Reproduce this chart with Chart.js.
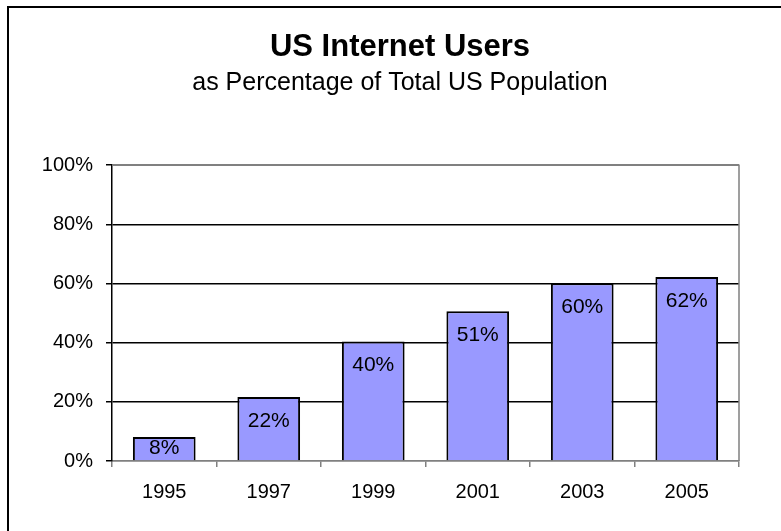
<!DOCTYPE html>
<html>
<head>
<meta charset="utf-8">
<script src="https://cdn.jsdelivr.net/npm/chart.js@4"></script>
<style>
  html, body { margin: 0; padding: 0; background: #fff; }
  #wrap { width: 781px; height: 531px; }
</style>
</head>
<body>
<div id="wrap"><canvas id="internetChart" width="781" height="531"></canvas></div>
<script>
// Dados do gráfico
const anos = ['1995', '1997', '1999', '2001', '2003', '2005'];
const usuariosPct = [8.1, 21.6, 40.4, 50.6, 60.1, 62.2];
const rotulosY = ['0%', '20%', '40%', '60%', '80%', '100%'];

const fonte = 'Liberation Sans, Arial, sans-serif';

// Moldura externa do gráfico (cortada à direita e embaixo, como na imagem)
const moldura = {
    id: 'moldura',
    beforeDraw(chart) {
        const c = chart.ctx;
        c.save();
        c.fillStyle = '#ffffff';
        c.fillRect(0, 0, chart.width, chart.height);
        c.strokeStyle = '#000000';
        c.lineWidth = 2;
        c.strokeRect(8, 7, chart.width + 20, chart.height + 20);
        c.restore();
    },
    afterDatasetsDraw(chart) {
        // borda cinza da área de plotagem (topo e direita)
        const a = chart.chartArea;
        const c = chart.ctx;
        c.save();
        c.strokeStyle = '#808080';
        c.lineWidth = 1.5;
        c.beginPath();
        c.moveTo(a.left, a.top);
        c.lineTo(a.right, a.top);
        c.lineTo(a.right, a.bottom);
        c.stroke();
        c.restore();
    }
};

// Rótulos de valor dentro das barras, perto do topo
const rotulosBarras = {
    id: 'rotulosBarras',
    afterDatasetsDraw(chart) {
        const c = chart.ctx;
        const meta = chart.getDatasetMeta(0);
        c.save();
        c.fillStyle = '#000000';
        c.font = '21px ' + fonte;
        c.textAlign = 'center';
        c.textBaseline = 'middle';
        meta.data.forEach((bar, i) => {
            const altura = bar.base - bar.y;
            const dy = Math.min(24, altura / 2);
            c.fillText(Math.round(usuariosPct[i]) + '%', bar.x, bar.y + dy);
        });
        c.restore();
    }
};

const ctx = document.getElementById('internetChart').getContext('2d');

new Chart(ctx, {
    type: 'bar',
    data: {
        labels: anos,
        datasets: [{
            data: usuariosPct,
            backgroundColor: '#9999ff',
            borderColor: '#000000',
            borderWidth: 2,
            borderSkipped: 'bottom',
            barPercentage: 0.6,
            categoryPercentage: 1.0
        }]
    },
    options: {
        responsive: false,
        animation: false,
        events: [],
        layout: { padding: { left: 19, right: 0, top: 0, bottom: 0 } },
        plugins: {
            legend: { display: false },
            tooltip: { enabled: false },
            title: {
                display: true,
                text: 'US Internet Users',
                color: '#000000',
                font: { size: 31, weight: 'bold', family: fonte },
                padding: { top: 29, bottom: 2 }
            },
            subtitle: {
                display: true,
                text: 'as Percentage of Total US Population',
                color: '#000000',
                font: { size: 25, family: fonte },
                padding: { top: 0, bottom: 67 }
            }
        },
        scales: {
            x: {
                grid: {
                    offset: true,
                    drawOnChartArea: false,
                    drawTicks: true,
                    tickLength: 6,
                    color: '#808080',
                    lineWidth: 1.5
                },
                border: { color: '#808080', width: 1.5 },
                ticks: {
                    color: '#000000',
                    padding: 13,
                    font: { size: 20, family: fonte }
                },
                afterFit(s) { s.height = 70; }
            },
            y: {
                min: 0,
                max: 100,
                grid: {
                    color: (c) => (c.tick && (c.tick.value === 100 || c.tick.value === 0)) ? '#808080' : '#000000',
                    lineWidth: 1.5,
                    tickColor: '#000000',
                    tickLength: 6
                },
                border: { color: '#000000', width: 1.5 },
                ticks: {
                    stepSize: 20,
                    color: '#000000',
                    padding: 13,
                    font: { size: 20, family: fonte },
                    callback: (v) => rotulosY[v / 20]
                },
                afterFit(s) { s.width = 93; }
            },
            // eixo vazio à direita, só para reservar a margem
            margemDireita: {
                type: 'linear',
                position: 'right',
                display: true,
                grid: { display: false, drawTicks: false },
                border: { display: false },
                ticks: { display: false },
                afterFit(s) { s.width = 42; }
            }
        }
    },
    plugins: [moldura, rotulosBarras]
});
</script>
</body>
</html>
